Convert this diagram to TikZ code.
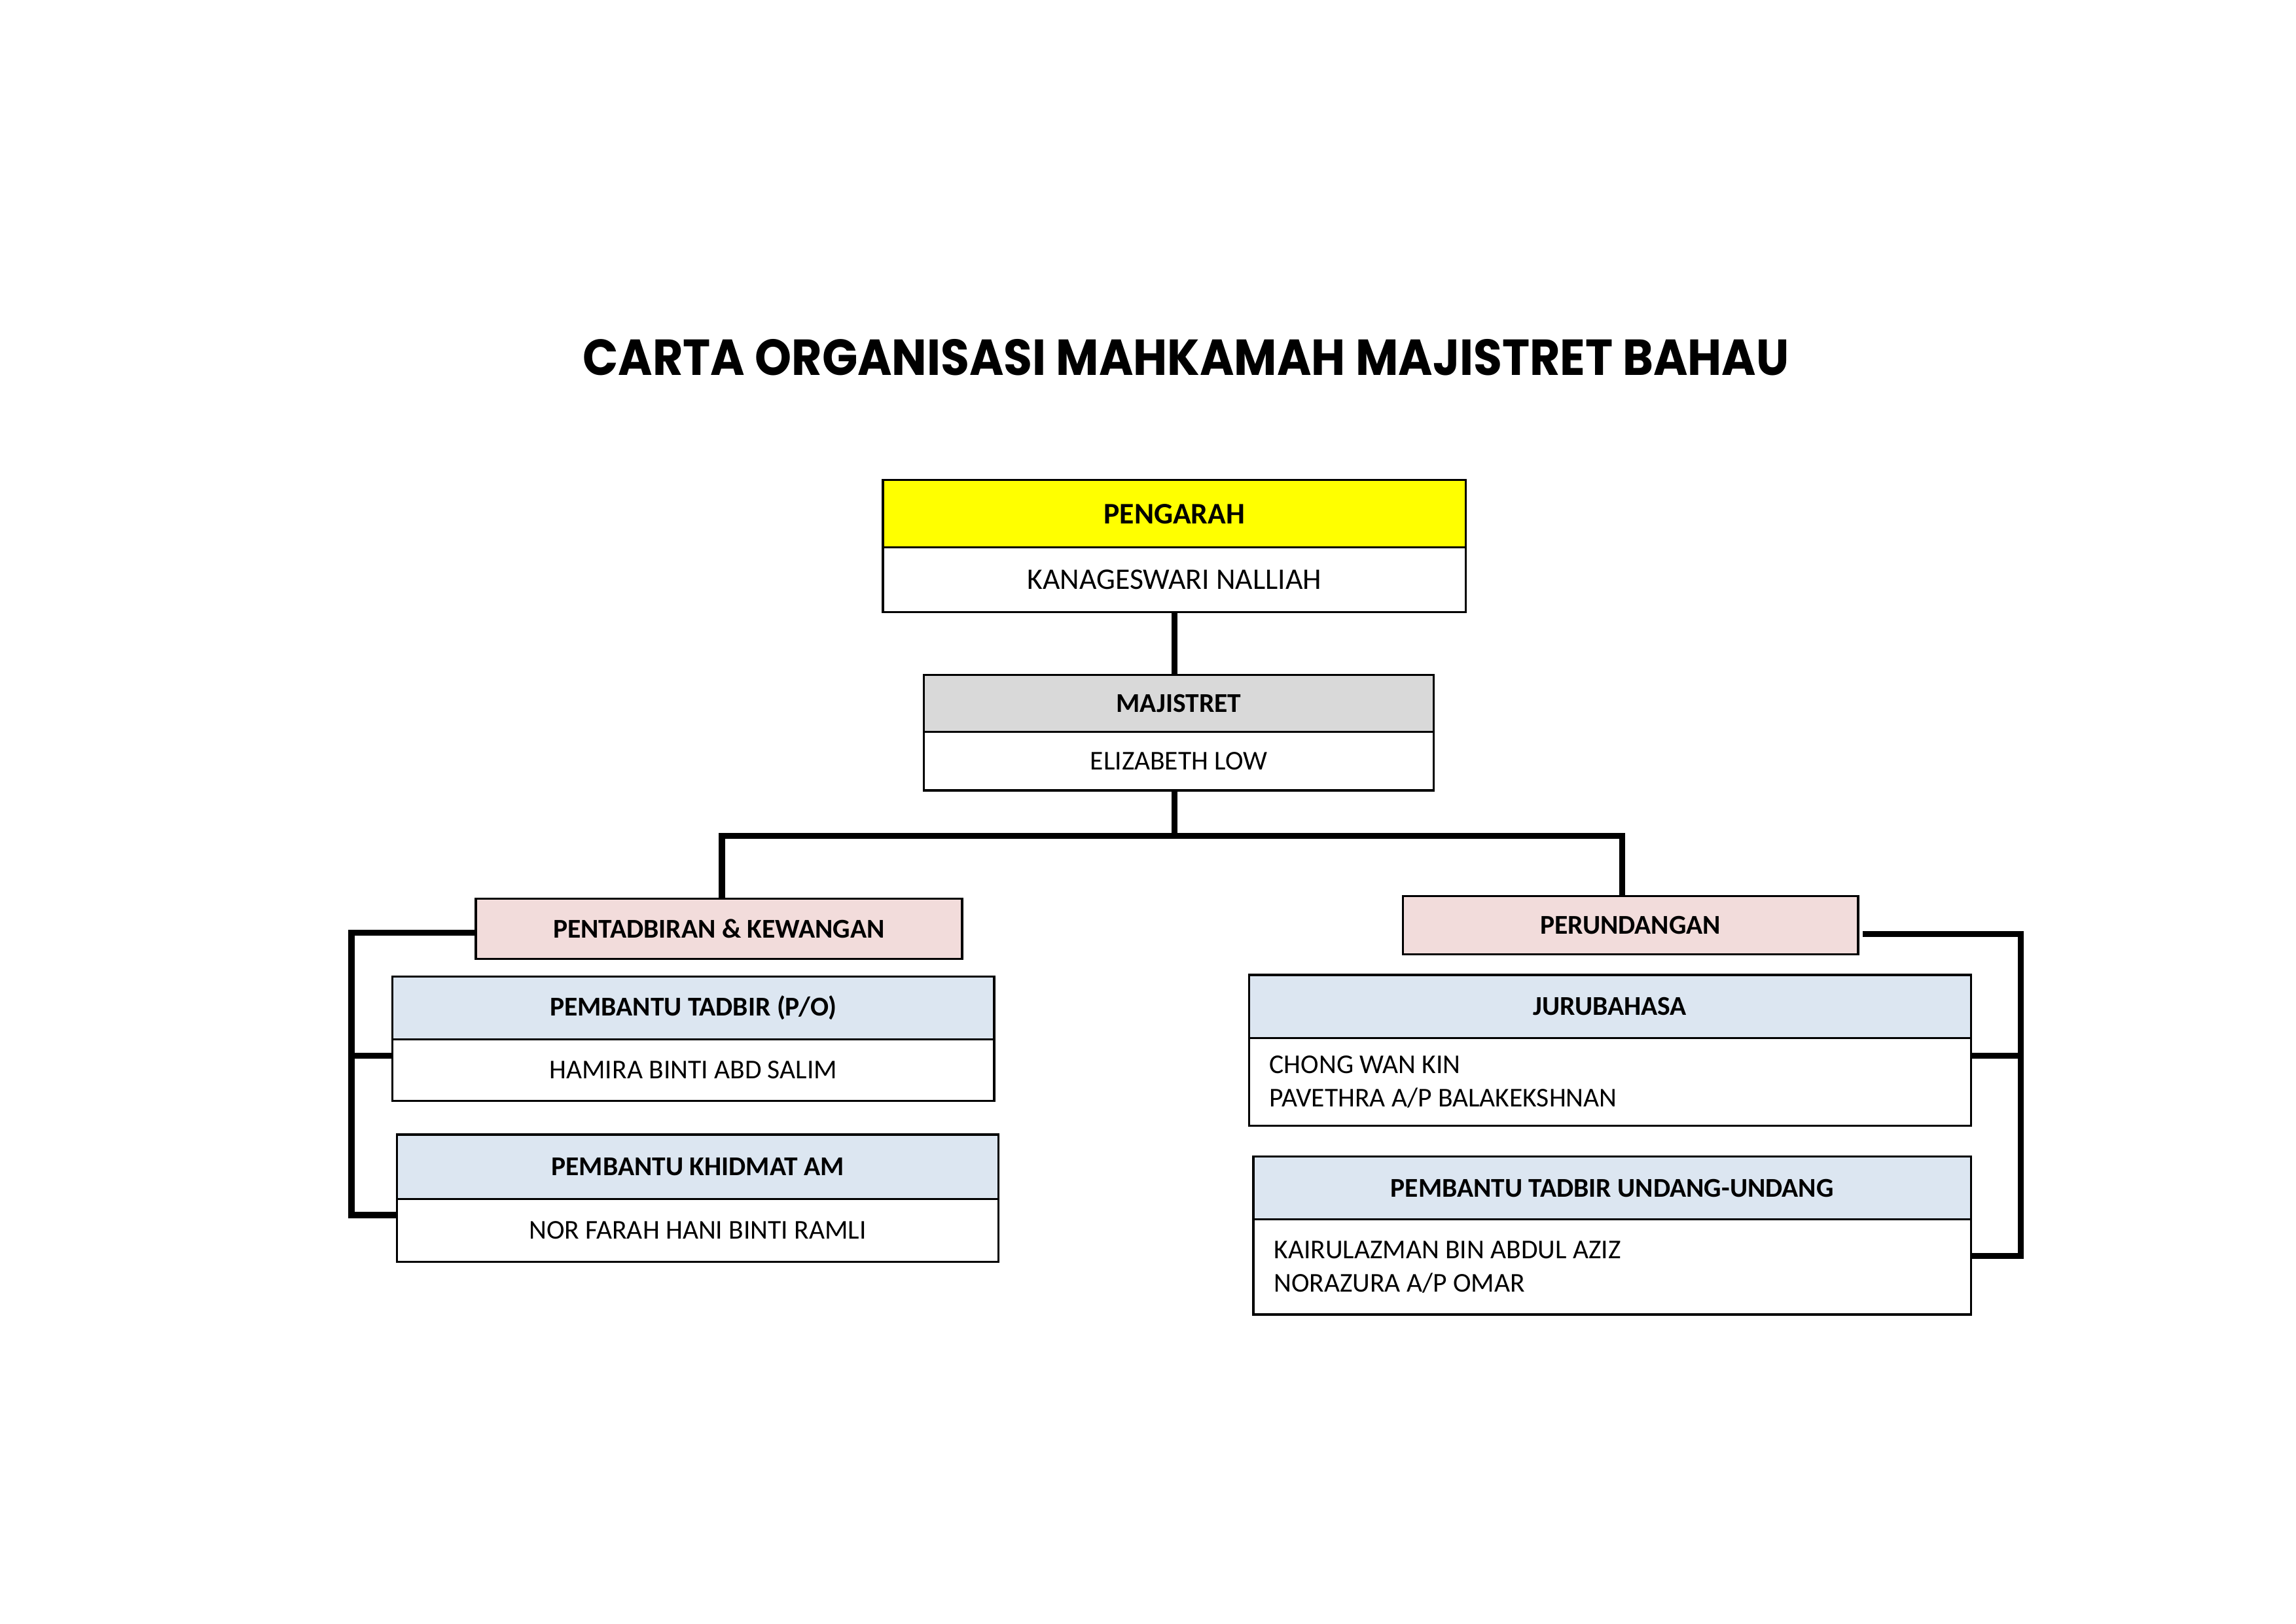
\documentclass[tikz,border=0pt]{standalone}
\usepackage{fontspec}
\usepackage{graphicx}
\setmainfont{Carlito}
\newfontfamily\titlefont{Poppins}
\usepackage{tikz}
\usetikzlibrary{positioning}

\newdimen\unitpx
\unitpx=0.018941cm

\definecolor{topyellow}{HTML}{FFFF00}
\definecolor{magigray}{HTML}{D9D9D9}
\definecolor{unitpink}{HTML}{F2DCDB}
\definecolor{staffblue}{HTML}{DCE6F1}

\begin{document}
\begin{tikzpicture}[x=0.018941cm, y=-0.018941cm,
  head/.style={draw, line width=0.8pt, inner sep=0pt, outer sep=0pt, anchor=north west, font=\bfseries\fontsize{10}{12}\selectfont},
  namebox/.style={draw, line width=0.8pt, inner sep=0pt, outer sep=0pt, below=0pt of #1, font=\fontsize{10}{12}\selectfont},
  namelist/.style={align=flush left, inner xsep=14*\unitpx, font=\fontsize{10}{12.4}\selectfont},
  link/.style={line width=2.2pt}]
  \useasboundingbox (0,0) rectangle (1568,1109);

  \node [inner sep=0pt] (title) at (810,244) {\resizebox{15.6cm}{0.466cm}{\titlefont\bfseries CARTA ORGANISASI MAHKAMAH MAJISTRET BAHAU}};

  % pengarah & majistret
  \node [head, fill=topyellow, minimum width=398*\unitpx, minimum height=46*\unitpx, font=\bfseries\fontsize{11}{13}\selectfont] (pengarah) at (603,328) {PENGARAH};
  \node [namebox=pengarah, minimum width=398*\unitpx, minimum height=44*\unitpx, font=\fontsize{11}{13}\selectfont] (pengarahname) {KANAGESWARI NALLIAH};
  \node [head, fill=magigray, minimum width=348*\unitpx, minimum height=39*\unitpx] (majistret) at (631,461) {MAJISTRET};
  \node [namebox=majistret, minimum width=348*\unitpx, minimum height=40*\unitpx] (majistretname) {ELIZABETH LOW};

  % left side
  \node [head, fill=unitpink, minimum width=332*\unitpx, minimum height=41*\unitpx] (pentadbiran) at (325,614) {PENTADBIRAN \& KEWANGAN};
  \node [head, fill=staffblue, minimum width=411*\unitpx, minimum height=43*\unitpx] (ptadbir) at (268,667) {PEMBANTU TADBIR (P/O)};
  \node [namebox=ptadbir, minimum width=411*\unitpx, minimum height=42*\unitpx] (ptadbirname) {HAMIRA BINTI ABD SALIM};
  \node [head, fill=staffblue, minimum width=411*\unitpx, minimum height=44*\unitpx] (pkhidmat) at (271,775) {PEMBANTU KHIDMAT AM};
  \node [namebox=pkhidmat, minimum width=411*\unitpx, minimum height=43*\unitpx] (pkhidmatname) {NOR FARAH HANI BINTI RAMLI};

  % right side
  \node [head, fill=unitpink, minimum width=311*\unitpx, minimum height=40*\unitpx] (perundangan) at (958,612) {PERUNDANGAN};
  \node [head, fill=staffblue, minimum width=493*\unitpx, minimum height=43*\unitpx] (juru) at (853,666) {JURUBAHASA};
  \node [namebox=juru, namelist, text width=465*\unitpx, minimum height=60*\unitpx] (juruname) {CHONG WAN KIN\\PAVETHRA A/P BALAKEKSHNAN};
  \node [head, fill=staffblue, minimum width=490*\unitpx, minimum height=43*\unitpx] (ptuu) at (856,790) {PEMBANTU TADBIR UNDANG-UNDANG};
  \node [namebox=ptuu, namelist, text width=462*\unitpx, minimum height=65*\unitpx] (ptuuname) {KAIRULAZMAN BIN ABDUL AZIZ\\NORAZURA A/P OMAR};

  \coordinate (busl) at (493,571);
  \coordinate (busr) at (1108,571);
  \coordinate (lbar) at (240,637);
  \coordinate (rbar) at (1380,638);
  \coordinate (tadbirjoin) at ([yshift=-11*\unitpx]ptadbirname.north west);
  \coordinate (khidmatjoin) at ([yshift=-11*\unitpx]pkhidmatname.north west);
  \coordinate (jurujoin) at ([yshift=-12*\unitpx]juruname.north east);
  \coordinate (ptuujoin) at ([yshift=-25*\unitpx]ptuuname.north east);

  \draw [link] (pengarahname.south) -- (pengarahname.south |- majistret.north);
  \draw [link] (pengarahname.south |- majistretname.south) -- (pengarahname.south |- busl);
  \draw [link] (pentadbiran.north -| busl) -- (busl) -- (busr) -- (perundangan.north -| busr);

  \draw [link] (pentadbiran.west |- lbar) -- (lbar) |- (khidmatjoin);
  \draw [link] (tadbirjoin) -- (lbar |- tadbirjoin);

  \draw [link] ([xshift=3*\unitpx]perundangan.east |- rbar) -- (rbar) |- (ptuujoin);
  \draw [link] (jurujoin) -- (rbar |- jurujoin);

\end{tikzpicture}
\end{document}
